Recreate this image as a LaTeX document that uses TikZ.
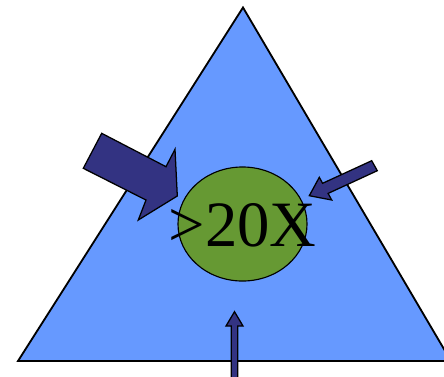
\documentclass[tikz,border=0pt]{standalone}
\usepackage{xcolor}
\usepackage{fontspec}
\setmainfont{Liberation Serif}
\usetikzlibrary{calc, shapes.geometric}
\definecolor{skyfill}{HTML}{6699FF}
\definecolor{coregreen}{HTML}{669933}
\definecolor{navyarrow}{HTML}{333382}

\begin{document}
\begin{tikzpicture}[x=0.025cm, y=-0.025cm, blockarrow/.style={draw=black, fill=navyarrow, line width=0.9pt, line join=miter}]
  \useasboundingbox (0,0) rectangle (444,376);
  \draw[fill=skyfill, line width=1.3pt] (18,361) -- (243,7.5) -- (451,361) -- cycle;
  \node[draw, ellipse, fill=coregreen, line width=0.8pt, minimum width=3.225cm, minimum height=2.85cm, inner sep=0pt] (core) at (242.5,224) {};
  \coordinate (bigtip) at (177.3,196);
  \coordinate (sidetip) at (309.3,195.7);
  \coordinate (lowtip) at (234.5,311.7);
  \draw[blockarrow] (101.7,133.3) -- (166,166.7) -- (175,149.3) -- (bigtip) -- (138.3,220) -- (146,200) -- (83.3,168.3) -- cycle;
  \draw[blockarrow] (371.7,160.7) -- (322.6,183.3) -- (319.3,177.3) -- (sidetip) -- (331.7,200) -- (328.1,193.4) -- (377.3,170.7) -- cycle;
  \draw[blockarrow] (231.2,390) -- (231.2,326) -- (226,326) -- (lowtip) -- (243,326) -- (237.8,326) -- (237.8,390) -- cycle;
  \node[inner sep=0pt, font=\fontsize{46}{46}\selectfont] (ratio) at ($(core.center)+(0,1)$) {>20X};
\end{tikzpicture}
\end{document}
